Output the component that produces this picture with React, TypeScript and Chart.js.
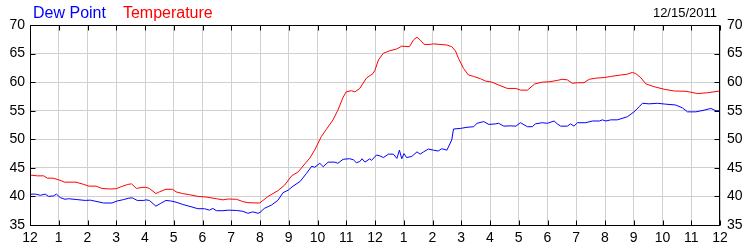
import React, { useEffect, useRef } from "react";
import { Chart, registerables } from "chart.js";

Chart.register(...registerables);

const chartDate = "12/15/2011";
const seriesNames = ["Dew Point", "Temperature"];
const hourLabels = ["12", "1", "2", "3", "4", "5", "6", "7", "8", "9", "10", "11", "12", "1", "2", "3", "4", "5", "6", "7", "8", "9", "10", "11", "12"];

const tempHours = [
  0, 0.25, 0.48, 0.6, 0.8, 1.0, 1.2, 1.6, 1.87, 2.05, 2.3, 2.5, 2.77, 3.0, 3.17, 3.4, 3.53, 3.7, 3.93, 4.03,
  4.15, 4.38, 4.5, 4.73, 4.96, 5.08, 5.31, 5.55, 5.84, 6.13, 6.48, 6.71, 6.89, 7.18, 7.4, 7.58, 7.99, 8.28, 8.62, 8.86,
  9.1, 9.33, 9.56, 9.73, 9.9, 10.13, 10.31, 10.54, 10.71, 10.89, 11.0, 11.18, 11.3, 11.47, 11.7, 11.93, 12.0, 12.12, 12.29, 12.52,
  12.75, 12.93, 13.2, 13.34, 13.46, 13.57, 13.71, 13.92, 14.03, 14.26, 14.5, 14.67, 14.8, 14.9, 15.08, 15.25, 15.43, 15.67, 15.84, 16.07,
  16.3, 16.6, 16.9, 17.06, 17.3, 17.56, 17.82, 18.05, 18.34, 18.51, 18.69, 18.86, 19.04, 19.27, 19.45, 19.68, 19.97, 20.2, 20.55, 20.78,
  20.95, 21.07, 21.25, 21.42, 21.71, 22.06, 22.41, 22.82, 23.22, 23.57, 24.0,
];
const tempValues = [
  43.75, 43.6, 43.6, 43.2, 43.2, 42.9, 42.5, 42.5, 42.1, 41.8, 41.8, 41.4, 41.3, 41.35, 41.7, 42.1, 42.2, 41.4, 41.6, 41.6,
  41.4, 40.5, 40.8, 41.25, 41.25, 40.8, 40.5, 40.3, 40.0, 39.9, 39.6, 39.4, 39.55, 39.5, 39.1, 38.9, 38.85, 40.0, 41.0, 42.0,
  43.6, 44.3, 45.7, 46.7, 48.1, 50.45, 51.75, 53.4, 55.1, 57.35, 58.3, 58.5, 58.3, 58.9, 60.7, 61.5, 62.1, 63.9, 65.05, 65.5,
  65.8, 66.3, 66.2, 67.4, 67.85, 67.4, 66.6, 66.6, 66.7, 66.6, 66.5, 66.2, 65.45, 64.2, 62.4, 61.25, 61.0, 60.6, 60.2, 60.0,
  59.5, 58.9, 58.9, 58.6, 58.6, 59.7, 60.0, 60.05, 60.3, 60.5, 60.4, 59.8, 59.9, 59.9, 60.5, 60.7, 60.8, 61.0, 61.25, 61.4,
  61.7, 61.5, 60.75, 59.7, 59.2, 58.75, 58.45, 58.4, 58.0, 58.15, 58.45,
];

const dewHours = [
  0, 0.2, 0.36, 0.53, 0.65, 0.82, 0.92, 1.05, 1.22, 1.34, 1.63, 1.92, 2.1, 2.33, 2.56, 2.85, 3.03, 3.26, 3.44, 3.56,
  3.73, 3.96, 4.03, 4.15, 4.38, 4.55, 4.73, 4.9, 5.08, 5.31, 5.6, 5.84, 6.07, 6.24, 6.36, 6.48, 6.71, 6.89, 7.18, 7.4,
  7.58, 7.75, 7.93, 8.0, 8.15, 8.4, 8.62, 8.8, 8.98, 9.15, 9.39, 9.62, 9.8, 9.9, 10.08, 10.2, 10.37, 10.6, 10.71, 10.89,
  11.12, 11.25, 11.35, 11.47, 11.55, 11.65, 11.82, 11.88, 12.05, 12.17, 12.29, 12.47, 12.64, 12.76, 12.85, 12.93, 13.01, 13.1, 13.28, 13.46,
  13.57, 13.69, 13.86, 14.03, 14.2, 14.32, 14.5, 14.67, 14.73, 14.97, 15.2, 15.43, 15.55, 15.78, 15.96, 16.2, 16.3, 16.48, 16.71, 16.9,
  17.06, 17.3, 17.47, 17.58, 17.82, 18.0, 18.23, 18.34, 18.46, 18.69, 18.8, 18.92, 19.04, 19.33, 19.56, 19.8, 19.91, 20.03, 20.2, 20.43,
  20.78, 21.01, 21.19, 21.3, 21.53, 21.82, 22.11, 22.46, 22.69, 22.87, 23.16, 23.45, 23.68, 23.86, 24.0,
];
const dewValues = [
  40.4, 40.4, 40.2, 40.4, 40.0, 40.1, 40.4, 39.8, 39.5, 39.6, 39.45, 39.3, 39.35, 39.1, 38.85, 38.85, 39.2, 39.45, 39.7, 39.75,
  39.3, 39.3, 39.4, 39.3, 38.3, 38.8, 39.3, 39.2, 39.0, 38.6, 38.2, 37.85, 37.85, 37.6, 37.9, 37.5, 37.5, 37.6, 37.55, 37.4,
  37.05, 37.3, 37.05, 37.2, 37.9, 38.5, 39.3, 40.65, 41.1, 41.8, 42.6, 44.05, 45.3, 45.1, 45.8, 45.2, 46.0, 46.0, 45.8, 46.5,
  46.6, 46.4, 45.9, 46.1, 46.6, 46.0, 46.6, 46.3, 47.25, 47.1, 46.8, 47.4, 47.4, 46.65, 48.1, 46.6, 47.5, 46.8, 47.0, 47.8,
  47.4, 47.8, 48.3, 48.1, 47.95, 48.35, 48.1, 49.9, 51.8, 51.9, 52.1, 52.2, 52.8, 53.1, 52.6, 52.7, 52.8, 52.3, 52.35, 52.3,
  52.9, 52.2, 52.2, 52.7, 52.9, 52.8, 53.2, 52.7, 52.3, 52.3, 52.7, 52.3, 52.9, 52.9, 53.2, 53.2, 53.4, 53.2, 53.4, 53.4,
  53.95, 54.8, 55.7, 56.3, 56.2, 56.3, 56.15, 56.0, 55.5, 54.8, 54.8, 55.1, 55.4, 55.0, 55.0,
];

const FONT = '"Liberation Sans", Arial, sans-serif';

const framePlugin = {
  id: "framePlugin",
  afterDraw(chart: any) {
    const { ctx, chartArea } = chart;
    const { left, top, right, bottom } = chartArea;
    const L = Math.round(left) + 0.5;
    const R = Math.round(right) - 0.5;
    const T = Math.round(top) + 0.5;
    const B = Math.round(bottom) + 0.5;
    ctx.save();
    ctx.strokeStyle = "#000000";
    ctx.lineWidth = 1;
    ctx.beginPath();
    ctx.rect(L, T, R - L, B - T);
    const xs = chart.scales.x;
    for (let h = 0; h <= 24; h++) {
      const px = Math.round(xs.getPixelForValue(h)) + 0.5;
      ctx.moveTo(px, T);
      ctx.lineTo(px, T + 5);
      ctx.moveTo(px, B);
      ctx.lineTo(px, B - 5);
    }
    const ys = chart.scales.y;
    for (let v = 35; v <= 70; v += 5) {
      const py = Math.round(ys.getPixelForValue(v)) + 0.5;
      ctx.moveTo(L, py);
      ctx.lineTo(L + 5, py);
      ctx.moveTo(R, py);
      ctx.lineTo(R - 5, py);
    }
    ctx.stroke();

    ctx.font = "16px " + FONT;
    ctx.textBaseline = "alphabetic";
    ctx.textAlign = "left";
    ctx.fillStyle = "#0000ff";
    ctx.fillText(seriesNames[0], 33, 18);
    const w = ctx.measureText(seriesNames[0]).width;
    ctx.fillStyle = "#ff0000";
    ctx.fillText(seriesNames[1], 33 + w + 17, 18);
    ctx.font = "13px " + FONT;
    ctx.fillStyle = "#000000";
    ctx.textAlign = "right";
    ctx.fillText(chartDate, 717, 17);
    ctx.restore();
  },
};

export default function App() {
  const ref = useRef<HTMLCanvasElement>(null);
  useEffect(() => {
    if (!ref.current) return;
    const tickFont = { family: FONT, size: 14 };
    const chart = new Chart(ref.current, {
      type: "line",
      data: {
        datasets: [
          {
            label: seriesNames[0],
            data: dewHours.map((h, i) => ({ x: h, y: dewValues[i] })),
            borderColor: "#0000ff",
            borderWidth: 1,
            pointRadius: 0,
            tension: 0,
            fill: false,
          },
          {
            label: seriesNames[1],
            data: tempHours.map((h, i) => ({ x: h, y: tempValues[i] })),
            borderColor: "#ff0000",
            borderWidth: 1,
            pointRadius: 0,
            tension: 0,
            fill: false,
          },
        ],
      },
      options: {
        animation: false,
        responsive: false,
        events: [],
        layout: { padding: { top: 25, left: 0, right: 0, bottom: 0 } },
        plugins: { legend: { display: false }, tooltip: { enabled: false }, title: { display: false } },
        scales: {
          x: {
            type: "linear",
            min: 0,
            max: 24,
            afterFit: (s: any) => { s.height = 25; },
            afterBuildTicks: (s: any) => { s.ticks = hourLabels.map((_, i) => ({ value: i })); },
            ticks: {
              stepSize: 1,
              autoSkip: false,
              maxRotation: 0,
              padding: 5,
              color: "#000000",
              font: tickFont,
              callback: (v: any) => hourLabels[Number(v)] ?? "",
            },
            grid: { color: "#d0d0d0", drawTicks: false },
            border: { display: false },
          },
          y: {
            position: "left",
            min: 35,
            max: 70,
            afterFit: (s: any) => { s.width = 30; },
            ticks: { stepSize: 5, padding: 5, color: "#000000", font: tickFont },
            grid: { color: "#d0d0d0", drawTicks: false },
            border: { display: false },
          },
          y2: {
            position: "right",
            min: 35,
            max: 70,
            afterFit: (s: any) => { s.width = 30; },
            ticks: { stepSize: 5, padding: 7, color: "#000000", font: tickFont },
            grid: { drawOnChartArea: false, drawTicks: false },
            border: { display: false },
          },
        },
      },
      plugins: [framePlugin],
    });
    return () => chart.destroy();
  }, []);
  return (
    <div style={{ position: "fixed", left: 0, top: 0, width: 750, height: 250, background: "#ffffff" }}>
      <canvas ref={ref} width={750} height={250} style={{ display: "block", width: 750, height: 250 }} />
    </div>
  );
}
